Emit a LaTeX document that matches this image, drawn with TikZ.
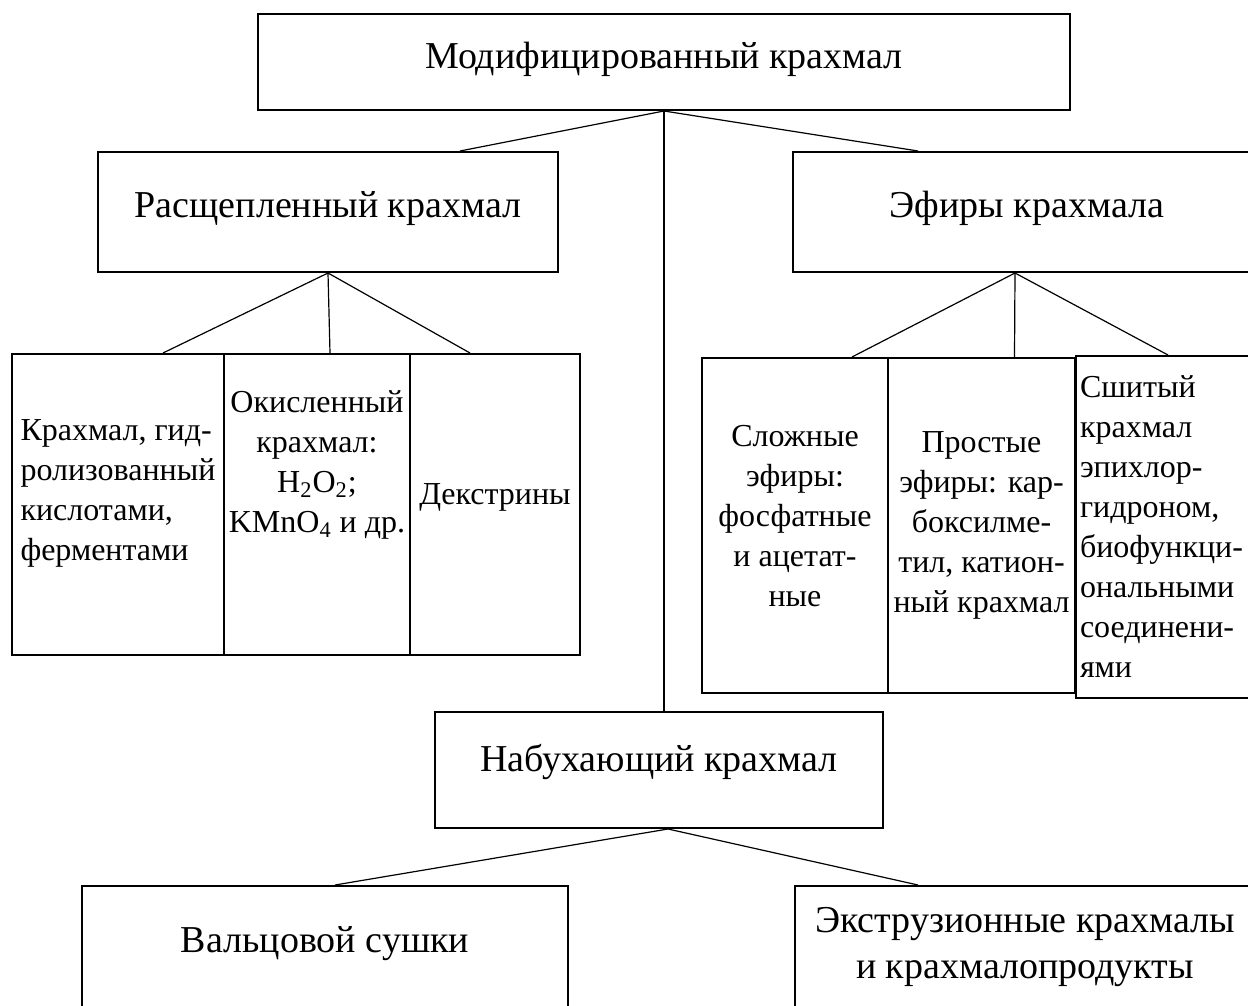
\documentclass[tikz,border=0pt]{standalone}
\usepackage{fontspec}
\setmainfont{Liberation Serif}
\usetikzlibrary{calc}

\tikzset{
  box/.style={draw, line width=1pt, rectangle, inner sep=2pt, align=center,
    font=\fontsize{19}{23}\selectfont},
  sbox/.style={draw, line width=1pt, rectangle, inner sep=2pt, align=center,
    font=\fontsize{16}{20}\selectfont},
  link/.style={line width=0.6pt}
}

\begin{document}
\begin{tikzpicture}[x=0.5pt,y=-0.5pt]
\useasboundingbox (0,0) rectangle (1248,1006);
\clip (0,0) rectangle (1248,1006);

% Top level
\node[box, minimum width=406pt, minimum height=48pt, text depth=7pt] (mod) at (664,62) {Модифицированный крахмал};
\node[box, minimum width=230pt, minimum height=60pt, text depth=8pt] (rasch) at (328,212) {Расщепленный крахмал};
\node[box, minimum width=234pt, minimum height=60pt, text depth=8pt] (efir) at (1027,212) {Эфиры крахмала};
\node[box, minimum width=224pt, minimum height=58pt, text depth=12pt] (nab) at (659,770) {Набухающий крахмал};

% Split starch
\node[sbox, align=left, minimum width=106pt, minimum height=150.5pt, text depth=14pt] (kh) at (118,504.5) {Крахмал, гид-\\ролизованный\\кислотами,\\ферментами};
\node[sbox, minimum width=93pt, minimum height=150.5pt, text depth=43pt] (ok) at (317,504.5) {Окисленный\\крахмал:\\H\textsubscript{2}O\textsubscript{2};\\KMnO\textsubscript{4} и др.};
\node[sbox, minimum width=85pt, minimum height=150.5pt, text depth=10pt] (dex) at (495,504.5) {Декстрины};

% Ethers
\node[sbox, minimum width=93pt, minimum height=167.5pt, text depth=10pt] (slo) at (795,525.5) {Сложные\\эфиры:\\фосфатные\\и ацетат-\\ные};
\node[sbox, minimum width=93.5pt, minimum height=167.5pt] (pro) at (981.5,525.5) {Простые\\эфиры: кар-\\боксилме-\\тил, катион-\\ный крахмал};
\node[sbox, align=left, anchor=north west, text width=86pt, minimum height=171pt] (sh) at (1075,355) {Сшитый\\крахмал\\эпихлор-\\гидроном,\\биофункци-\\ональными\\соединени-\\ями};

% Swelling starch
\node[box, anchor=north, minimum width=243pt, minimum height=70pt, text depth=17pt] (val) at (325,885) {Вальцовой сушки};
\node[box, anchor=north, minimum width=230pt, minimum height=70pt, text depth=13pt] (ekst) at (1025,885) {Экструзионные крахмалы\\и крахмалопродукты};

% Connectors
\draw[link] (mod.south) -- ($(rasch.north)+(132,0)$);
\draw[link] (mod.south) -- ($(efir.north)+(-109,0)$);
\draw[link] (mod.south) -- (mod.south |- nab.north);
\foreach \n/\dx in {kh/45, ok/13, dex/-25}
  \draw[link] (rasch.south) -- ($(\n.north)+(\dx,0)$);
\coordinate (efb) at ($(efir.south)+(-12,0)$);
\foreach \n/\dx in {slo/57, pro/33, sh/2}
  \draw[link] (efb) -- ($(\n.north)+(\dx,0)$);
\coordinate (nabb) at ($(nab.south)+(9,0)$);
\draw[link] (nabb) -- ($(val.north)+(10,0)$);
\draw[link] (nabb) -- ($(ekst.north)+(-107,0)$);
\end{tikzpicture}
\end{document}
